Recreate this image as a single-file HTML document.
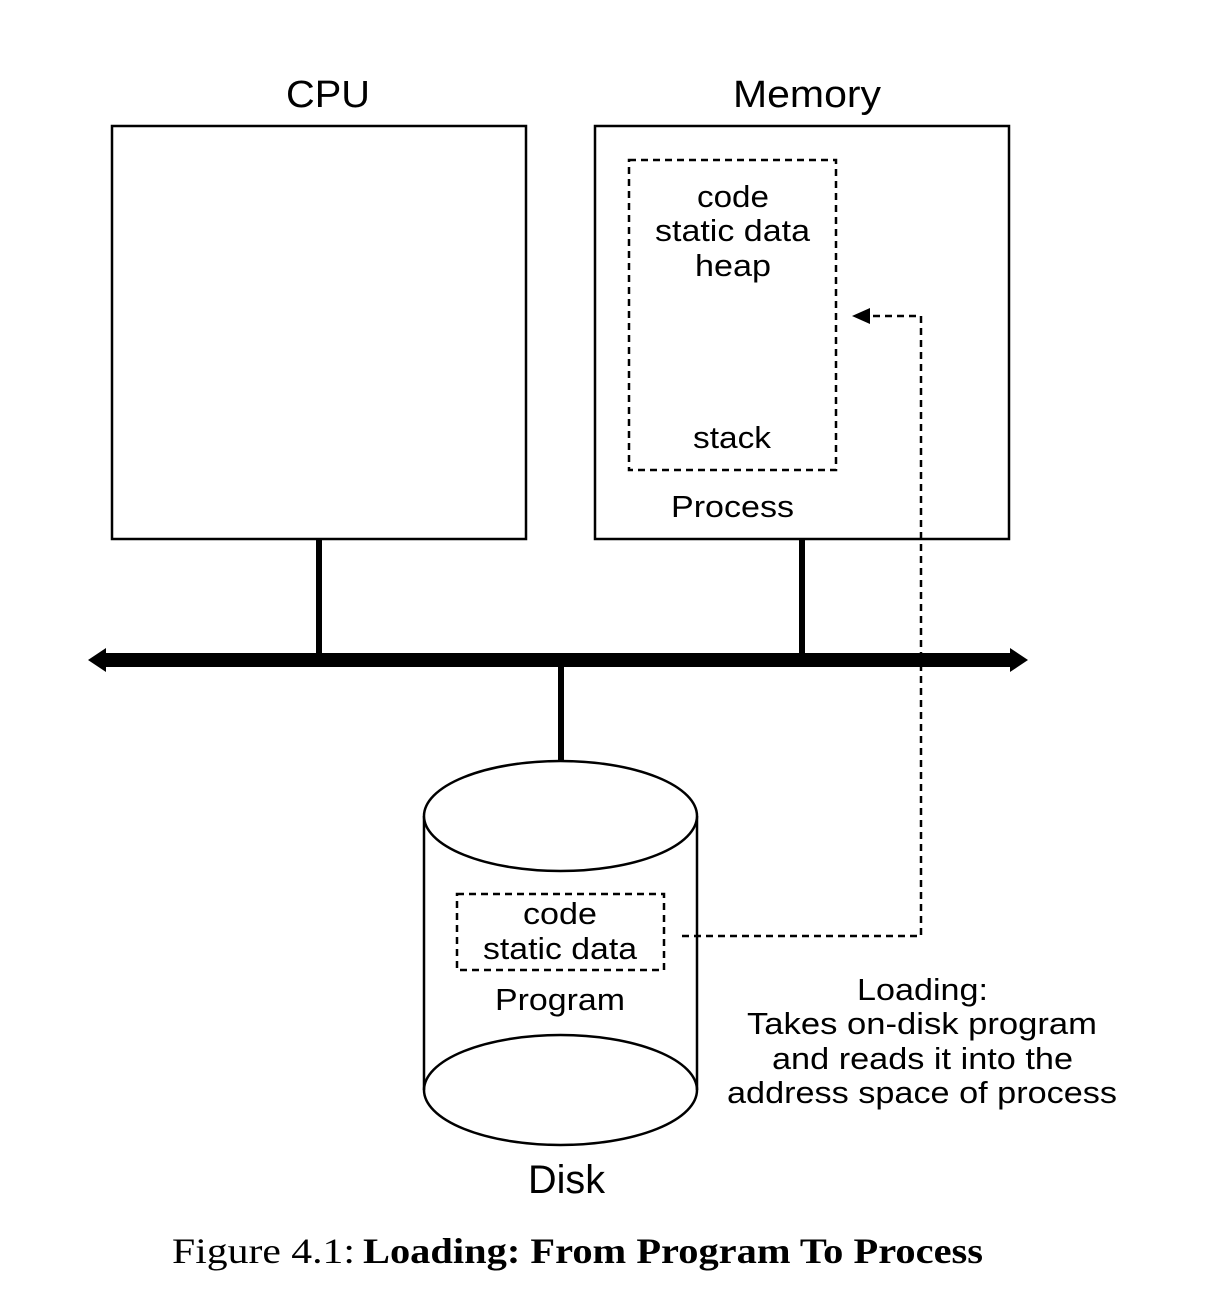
<!DOCTYPE html>
<html><head><style>
html,body{margin:0;padding:0;background:#fff;width:1216px;height:1312px;overflow:hidden}
text{font-family:"Liberation Sans",Arial,sans-serif;fill:#000}
</style></head><body>
<svg width="1216" height="1312" viewBox="0 0 1216 1312" xmlns="http://www.w3.org/2000/svg">
<g lengthAdjust="spacingAndGlyphs">
<text x="286" y="107" font-size="38" textLength="84" lengthAdjust="spacingAndGlyphs">CPU</text>
<text x="733" y="107" font-size="38" textLength="148" lengthAdjust="spacingAndGlyphs">Memory</text>
</g>
<rect x="112" y="126" width="414" height="413" fill="none" stroke="#000" stroke-width="2.5"/>
<rect x="595" y="126" width="414" height="413" fill="none" stroke="#000" stroke-width="2.5"/>
<rect x="629" y="160" width="207" height="310" fill="none" stroke="#000" stroke-width="2.5" stroke-dasharray="7,5"/>
<g font-size="31">
<text x="697" y="207" textLength="72" lengthAdjust="spacingAndGlyphs">code</text>
<text x="655" y="241" textLength="155" lengthAdjust="spacingAndGlyphs">static data</text>
<text x="695" y="276" textLength="76" lengthAdjust="spacingAndGlyphs">heap</text>
<text x="693" y="448" textLength="78" lengthAdjust="spacingAndGlyphs">stack</text>
<text x="671" y="517" textLength="123" lengthAdjust="spacingAndGlyphs">Process</text>
</g>
<line x1="319" y1="539" x2="319" y2="656" stroke="#000" stroke-width="6"/>
<line x1="802" y1="539" x2="802" y2="656" stroke="#000" stroke-width="6"/>
<line x1="561" y1="664" x2="561" y2="763" stroke="#000" stroke-width="6"/>
<rect x="104" y="653" width="908" height="14" fill="#000"/>
<polygon points="88,660 106,648 106,672" fill="#000"/>
<polygon points="1028,660 1010,648 1010,672" fill="#000"/>
<path d="M424,816 L424,1090 A136.5,55 0 0 0 697,1090 L697,816" fill="#fff" stroke="#000" stroke-width="2.5"/>
<ellipse cx="560.5" cy="816" rx="136.5" ry="55" fill="#fff" stroke="#000" stroke-width="2.5"/>
<path d="M424,1090 A136.5,55 0 0 1 697,1090" fill="none" stroke="#000" stroke-width="2.5"/>
<polyline points="682,936 921,936 921,316 866,316" fill="none" stroke="#000" stroke-width="2.5" stroke-dasharray="7,5"/>
<polygon points="852,316 870,308 870,324" fill="#000"/>
<rect x="457" y="894" width="207" height="76" fill="none" stroke="#000" stroke-width="2.5" stroke-dasharray="7,5"/>
<g font-size="31">
<text x="523" y="924" textLength="74" lengthAdjust="spacingAndGlyphs">code</text>
<text x="483" y="959" textLength="154" lengthAdjust="spacingAndGlyphs">static data</text>
<text x="495" y="1010" textLength="130" lengthAdjust="spacingAndGlyphs">Program</text>
<text x="857" y="1000" textLength="131" lengthAdjust="spacingAndGlyphs">Loading:</text>
<text x="747" y="1034" textLength="350" lengthAdjust="spacingAndGlyphs">Takes on-disk program</text>
<text x="772" y="1069" textLength="301" lengthAdjust="spacingAndGlyphs">and reads it into the</text>
<text x="727" y="1103" textLength="390" lengthAdjust="spacingAndGlyphs">address space of process</text>
</g>
<text x="528" y="1193" font-size="40" textLength="77" lengthAdjust="spacingAndGlyphs">Disk</text>
<text x="172" y="1263" font-size="36" style="font-family:'Liberation Serif',serif" textLength="183" lengthAdjust="spacingAndGlyphs">Figure 4.1:</text>
<text x="363" y="1263" font-size="36" font-weight="bold" style="font-family:'Liberation Serif',serif" textLength="620" lengthAdjust="spacingAndGlyphs">Loading: From Program To Process</text>
</svg>
</body></html>
